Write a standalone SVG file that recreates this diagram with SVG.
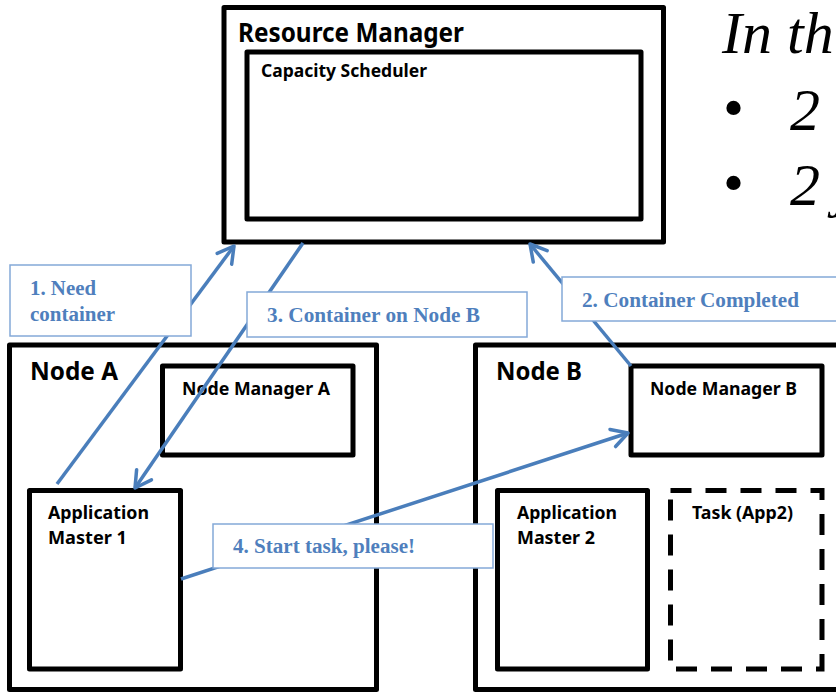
<svg xmlns="http://www.w3.org/2000/svg" width="836" height="692" viewBox="0 0 836 692">
<defs>
<style>
.box{fill:none;stroke:#000;stroke-width:5;stroke-linejoin:round}
.dash{fill:none;stroke:#000;stroke-width:5;stroke-dasharray:21 14}
.t{font-family:"Noto Sans","Open Sans","Liberation Sans",sans-serif;font-weight:bold;fill:#000}
.conn{stroke:#4a7ebb;stroke-width:3.5;fill:none;marker-end:url(#chev)}
.lbl{fill:#fff;stroke:#84a9d8;stroke-width:1.5}
.lt{font-family:"Liberation Serif","Times New Roman",serif;font-weight:bold;font-size:20px;fill:#4f7fbd}
.big{font-family:"Liberation Serif","Times New Roman",serif;font-style:italic;font-size:60px;fill:#000}
.bul{font-family:"Liberation Serif","Times New Roman",serif;font-size:60px;fill:#000}
</style>
<marker id="chev" markerUnits="userSpaceOnUse" viewBox="-20 -12 22 24" refX="0" refY="0" markerWidth="22" markerHeight="24" orient="auto" overflow="visible">
<path d="M-16,-9 L0,0 L-16,9" fill="none" stroke="#4a7ebb" stroke-width="3.5" stroke-linejoin="round" stroke-linecap="round"/>
</marker>
</defs>
<rect width="836" height="692" fill="#fff"/>

<g id="resource-manager">
<rect class="box" x="224" y="7.5" width="439.5" height="234.5"/>
<text class="t" x="238" y="42" font-size="26" textLength="226" lengthAdjust="spacingAndGlyphs">Resource Manager</text>
</g>
<g id="capacity-scheduler">
<rect class="box" x="247" y="52" width="394" height="167"/>
<text class="t" x="261" y="77" font-size="18" textLength="166" lengthAdjust="spacingAndGlyphs">Capacity Scheduler</text>
</g>

<g id="node-a">
<rect class="box" x="9.5" y="345" width="367" height="344.5"/>
<text class="t" x="30" y="380" font-size="25" textLength="88" lengthAdjust="spacingAndGlyphs">Node A</text>
</g>
<g id="node-manager-a">
<rect class="box" x="162.5" y="366" width="190.5" height="89"/>
<text class="t" x="182" y="395" font-size="18" textLength="148" lengthAdjust="spacingAndGlyphs">Node Manager A</text>
</g>
<g id="application-master-1">
<rect class="box" x="29.5" y="490.5" width="151" height="178.5"/>
<text class="t" x="48" y="519" font-size="18" textLength="101" lengthAdjust="spacingAndGlyphs">Application</text>
<text class="t" x="48" y="544" font-size="18" textLength="79" lengthAdjust="spacingAndGlyphs">Master 1</text>
</g>

<g id="node-b">
<rect class="box" x="475.5" y="345" width="380" height="344.5"/>
<text class="t" x="496" y="380" font-size="25" textLength="86" lengthAdjust="spacingAndGlyphs">Node B</text>
</g>
<g id="node-manager-b">
<rect class="box" x="631" y="366" width="191" height="89"/>
<text class="t" x="650" y="395" font-size="18" textLength="147" lengthAdjust="spacingAndGlyphs">Node Manager B</text>
</g>
<g id="application-master-2">
<rect class="box" x="497.5" y="490.5" width="150" height="178.5"/>
<text class="t" x="517" y="519" font-size="18" textLength="100" lengthAdjust="spacingAndGlyphs">Application</text>
<text class="t" x="517" y="544" font-size="18" textLength="78" lengthAdjust="spacingAndGlyphs">Master 2</text>
</g>
<g id="task-app2">
<rect class="dash" x="670.5" y="490.5" width="151.5" height="178.5"/>
<text class="t" x="692" y="519" font-size="18" textLength="101" lengthAdjust="spacingAndGlyphs">Task (App2)</text>
</g>

<g id="connectors">
<line class="conn" x1="57" y1="484" x2="234" y2="246"/>
<line class="conn" x1="303" y1="243" x2="135" y2="488"/>
<line class="conn" x1="631" y1="366" x2="530" y2="244"/>
<line class="conn" x1="181" y1="579" x2="628" y2="433"/>
</g>

<g id="label-1">
<rect class="lbl" x="10" y="265" width="181" height="71"/>
<text class="lt" x="30" y="295" textLength="66" lengthAdjust="spacingAndGlyphs">1. Need</text>
<text class="lt" x="30" y="321" textLength="85" lengthAdjust="spacingAndGlyphs">container</text>
</g>
<g id="label-2">
<rect class="lbl" x="562" y="277" width="290" height="44"/>
<text class="lt" x="582" y="307" textLength="217" lengthAdjust="spacingAndGlyphs">2. Container Completed</text>
</g>
<g id="label-3">
<rect class="lbl" x="247" y="292" width="280" height="45"/>
<text class="lt" x="267" y="322" textLength="213" lengthAdjust="spacingAndGlyphs">3. Container on Node B</text>
</g>
<g id="label-4">
<rect class="lbl" x="213" y="524" width="280" height="44"/>
<text class="lt" x="233" y="553" textLength="182" lengthAdjust="spacingAndGlyphs">4. Start task, please!</text>
</g>

<g id="side-text">
<text class="big" x="722" y="53">In th</text>
<text class="bul" x="723" y="128">•</text>
<text class="big" x="790" y="130">2</text>
<text class="bul" x="723" y="203">•</text>
<text class="big" x="790" y="205">2<tspan x="834">j</tspan></text>
</g>
</svg>
